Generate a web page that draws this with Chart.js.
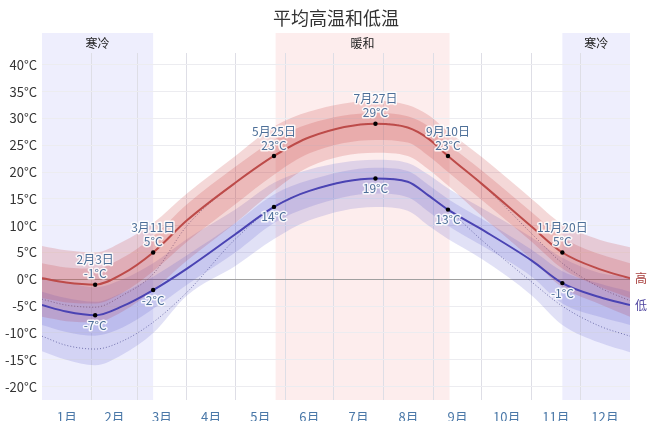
<!DOCTYPE html>
<html>
<head>
<meta charset="utf-8">
<script src="https://cdn.jsdelivr.net/npm/chart.js@4.4.1/dist/chart.umd.min.js"></script>
<style>
    html, body { margin: 0; padding: 0; background: #fff; }
    #wrap { width: 650px; height: 421px; }
</style>
</head>
<body>
<div id="wrap"><canvas id="tempChart" width="650" height="421"></canvas></div>
<script>

// day of year for each sample
const days = [0, 15, 33, 50, 69, 90, 120, 144, 166, 207, 227, 240, 252, 273, 304, 323, 346, 365];

const hiMean = [0.2, -0.6, -1, 1, 5, 11, 18, 23, 26.5, 29, 28.3, 26.2, 23, 17.8, 9.8, 5, 1.9, 0.2];
const loMean = [-4.8, -6, -6.7, -5, -2, 2, 8.4, 13.5, 16.5, 18.8, 18.2, 15.6, 13, 9.3, 3.5, -0.7, -3.3, -4.8];

const hiP90 = [6.2, 5.4, 5, 7, 10.5, 16, 23, 28.5, 31.3, 33.3, 32.5, 30.6, 27.6, 22.8, 15, 10.3, 7.4, 6];
const hiP75 = [3, 2.2, 2, 4, 8, 14, 21, 26, 29, 31, 30.4, 28.5, 25.3, 20.3, 12.5, 7.8, 4.7, 3];
const hiP25 = [-3.5, -4.3, -4.5, -2.5, 1.5, 7, 14, 19.5, 23.5, 26, 25.5, 23, 20, 14.8, 7, 2, -1.4, -3.5];
const hiP10 = [-7, -7.8, -8, -6, -2, 3.5, 10.5, 16.5, 21, 23.6, 23, 20.5, 17.5, 11.8, 3.7, -1.5, -4.6, -7];

const loP90 = [0.5, -0.5, -1.5, 0, 3, 7.5, 13, 18, 20.5, 22.3, 21.7, 19.5, 17, 13.3, 7.8, 4, 1.2, 0.5];
const loP75 = [-2.3, -3.5, -4.2, -2.5, 0.5, 4.5, 10.5, 15.8, 18.5, 20.8, 20.2, 17.6, 15, 11.3, 5.5, 1.5, -0.8, -2.3];
const loP25 = [-8.5, -9.8, -10.5, -9, -5.5, -1, 5, 10.5, 13.5, 16, 15.3, 12.6, 10, 6.3, 0.5, -4.5, -7, -8.5];
const loP10 = [-13.4, -15, -16, -14, -10, -3, 2.5, 7.5, 11, 13.5, 12.8, 10, 7.5, 3.8, -3, -8.5, -11.8, -13.6];

// perceived (dotted)
const feelHi = [-3.7, -4.8, -5.2, -3, 1, 10, 18, 23, 26.5, 29, 28.3, 26.2, 23, 17.8, 8.5, 3, -1.5, -4];
const feelLo = [-10.6, -12.3, -13, -11.5, -8, -2.4, 7.5, 13.5, 16.5, 18.8, 18.2, 15.6, 13, 7.3, -0.5, -5, -8.7, -10.6];

// highlighted days
const markDays = [33, 69, 144, 207, 252, 323];
const markDates = ["2月3日", "3月11日", "5月25日", "7月27日", "9月10日", "11月20日"];

const monthLabels = ["1月", "2月", "3月", "4月", "5月", "6月", "7月", "8月", "9月", "10月", "11月", "12月"];
const monthStarts = [0, 31, 59, 90, 120, 151, 181, 212, 243, 273, 304, 334];

const yTicks = [-20, -15, -10, -5, 0, 5, 10, 15, 20, 25, 30, 35, 40];

const seasonNames = ["寒冷", "暖和", "寒冷"];
const seasonFrom = [0, 145, 323];
const seasonTo = [69, 253, 365];
const seasonKind = ["cold", "warm", "cold"];

const FONT = '"Noto Sans CJK SC", "Noto Sans", sans-serif';
Chart.defaults.font.family = FONT;

function pts(arr) {
    return days.map((d, i) => ({ x: d, y: arr[i] }));
}

function markPts(arr) {
    return markDays.map(d => ({ x: d, y: arr[days.indexOf(d)] }));
}

const monthMids = monthStarts.map((s, i) =>
    (s + (i < 11 ? monthStarts[i + 1] : 365)) / 2
);

function band(arr, fill, color, order) {
    return {
        data: pts(arr),
        fill: fill,
        backgroundColor: color,
        borderWidth: 0,
        pointRadius: 0,
        cubicInterpolationMode: "monotone",
        order: order
    };
}

function curve(arr, color, width, dash, order) {
    return {
        data: pts(arr),
        borderColor: color,
        borderWidth: width,
        borderDash: dash,
        pointRadius: 0,
        fill: false,
        cubicInterpolationMode: "monotone",
        order: order
    };
}

const RED_BAND = "rgba(200, 60, 60, 0.2)";
const BLUE_BAND = "rgba(80, 80, 200, 0.17)";

const seasonPlugin = {
    id: "seasons",
    beforeDraw(chart) {
        const { ctx, chartArea } = chart;
        const xs = chart.scales.x;
        ctx.save();
        seasonNames.forEach((name, i) => {
            const x0 = xs.getPixelForValue(seasonFrom[i]);
            const x1 = xs.getPixelForValue(seasonTo[i]);
            ctx.fillStyle = seasonKind[i] === "cold" ? "#eeeefd" : "#fdeded";
            ctx.fillRect(x0, chartArea.top - 20, x1 - x0, chartArea.bottom - chartArea.top + 20);
            ctx.fillStyle = "#222";
            ctx.font = "12px " + FONT;
            ctx.textAlign = "center";
            ctx.textBaseline = "middle";
            ctx.fillText(name, (x0 + x1) / 2, chartArea.top - 10);
        });
        // title
        ctx.fillStyle = "#333";
        ctx.font = "18px " + FONT;
        ctx.textAlign = "center";
        ctx.textBaseline = "middle";
        ctx.fillText("平均高温和低温", (chartArea.left + chartArea.right) / 2, 18);
        ctx.restore();
    }
};

const labelPlugin = {
    id: "marklabels",
    afterDatasetsDraw(chart) {
        const { ctx, chartArea } = chart;
        const hiMeta = chart.getDatasetMeta(12);
        const loMeta = chart.getDatasetMeta(13);
        ctx.save();
        ctx.font = "12px " + FONT;
        ctx.textAlign = "center";
        ctx.textBaseline = "middle";
        ctx.lineJoin = "round";
        ctx.lineWidth = 3;
        ctx.strokeStyle = "rgba(255,255,255,0.85)";
        ctx.fillStyle = "#4d6f98";
        const put = (t, x, y) => { ctx.strokeText(t, x, y); ctx.fillText(t, x, y); };
        hiMeta.data.forEach((p, i) => {
            const v = Math.round(chart.data.datasets[12].data[i].y);
            put(markDates[i], p.x, p.y - 25);
            put(v + "°C", p.x, p.y - 11);
        });
        loMeta.data.forEach((p, i) => {
            const v = Math.round(chart.data.datasets[13].data[i].y);
            put(v + "°C", p.x, p.y + 10);
        });
        // end labels
        const ys = chart.scales.y;
        ctx.textAlign = "left";
        ctx.fillStyle = "#a8403e";
        ctx.fillText("高", chartArea.right + 5, ys.getPixelForValue(hiMean[hiMean.length - 1]));
        ctx.fillStyle = "#4f45a0";
        ctx.fillText("低", chartArea.right + 5, ys.getPixelForValue(loMean[loMean.length - 1]));
        ctx.restore();
    }
};

new Chart(document.getElementById("tempChart"), {
    type: "line",
    data: {
        datasets: [
            band(hiP90, "+1", RED_BAND, 6),
            band(hiP10, false, RED_BAND, 6),
            band(hiP75, "+1", RED_BAND, 5),
            band(hiP25, false, RED_BAND, 5),
            band(loP90, "+1", BLUE_BAND, 6),
            band(loP10, false, BLUE_BAND, 6),
            band(loP75, "+1", BLUE_BAND, 5),
            band(loP25, false, BLUE_BAND, 5),
            curve(feelHi, "rgba(110, 70, 110, 0.7)", 1, [1, 2], 3),
            curve(feelLo, "rgba(80, 80, 150, 0.75)", 1, [1, 2], 3),
            curve(hiMean, "#bd4b49", 2, [], 1),
            curve(loMean, "#4a43b3", 2, [], 1),
            {
                type: "scatter",
                data: markPts(hiMean),
                pointRadius: 2.2,
                pointBackgroundColor: "#000",
                pointBorderWidth: 0,
                order: 0
            },
            {
                type: "scatter",
                data: markPts(loMean),
                pointRadius: 2.2,
                pointBackgroundColor: "#000",
                pointBorderWidth: 0,
                order: 0
            }
        ]
    },
    options: {
        responsive: false,
        animation: false,
        layout: {
            padding: { top: 53, right: 20, left: 0, bottom: 0 }
        },
        plugins: {
            legend: { display: false },
            tooltip: { enabled: false },
            title: { display: false }
        },
        scales: {
            x: {
                type: "linear",
                position: "bottom",
                min: 0,
                max: 365,
                afterBuildTicks: scale => {
                    scale.ticks = monthStarts.slice(1).map(v => ({ value: v }));
                },
                ticks: { display: false },
                grid: { color: "#dedee6", drawTicks: false },
                border: { display: false },
                afterFit: scale => { scale.height = 0; }
            },
            xl: {
                type: "linear",
                position: "bottom",
                min: 0,
                max: 365,
                afterBuildTicks: scale => {
                    scale.ticks = monthMids.map(v => ({ value: v }));
                },
                ticks: {
                    color: "#4a78a8",
                    font: { size: 13 },
                    padding: 1,
                    maxRotation: 0,
                    autoSkip: false,
                    callback: (v, i) => monthLabels[i]
                },
                grid: { display: false },
                border: { display: false },
                afterFit: scale => { scale.height = 21; }
            },
            y: {
                min: -22.5,
                max: 42.2,
                afterBuildTicks: scale => {
                    scale.ticks = yTicks.map(v => ({ value: v }));
                },
                ticks: {
                    color: "#333",
                    font: { size: 13 },
                    padding: 5,
                    callback: v => v + "°C"
                },
                grid: {
                    drawTicks: false,
                    color: c => c.tick && c.tick.value === 0 ? "#a0a0a0" : "#ececf0"
                },
                border: { display: false },
                afterFit: scale => { scale.width = 42; }
            }
        }
    },
    plugins: [seasonPlugin, labelPlugin]
});

</script>
</body>
</html>
